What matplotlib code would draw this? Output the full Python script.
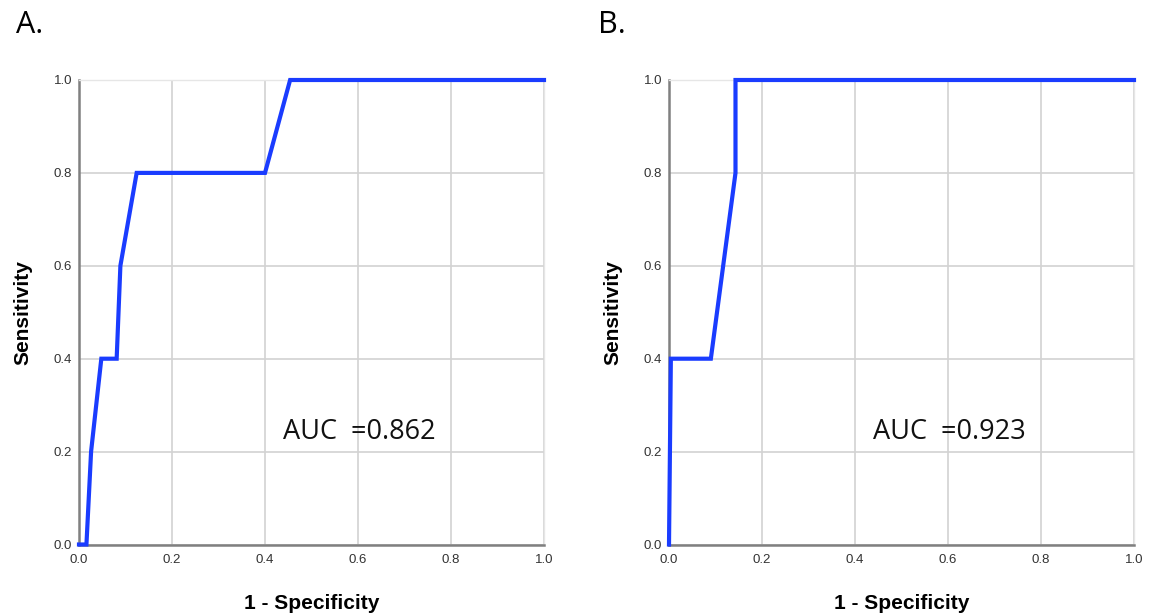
import matplotlib
matplotlib.use("Agg")
import matplotlib.pyplot as plt

# ROC curve A
fpr_a = [0.0, 0.016, 0.026, 0.048, 0.081, 0.089, 0.124, 0.400, 0.454, 1.0]
tpr_a = [0.0, 0.0, 0.2, 0.4, 0.4, 0.6, 0.8, 0.8, 1.0, 1.0]
auc_a = "AUC  =0.862"

# ROC curve B
fpr_b = [0.0, 0.004, 0.090, 0.143, 0.143, 1.0]
tpr_b = [0.0, 0.4, 0.4, 0.8, 1.0, 1.0]
auc_b = "AUC  =0.923"

ticks = [0.0, 0.2, 0.4, 0.6, 0.8, 1.0]
tick_labels = ["0.0", "0.2", "0.4", "0.6", "0.8", "1.0"]

W, H = 1158, 614
fig = plt.figure(figsize=(W / 100, H / 100), dpi=100)


def draw_panel(left_px, fpr, tpr, auc_text, letter, letter_x):
    ax = fig.add_axes([left_px / W, (H - 544.5) / H, 465 / W, 464.5 / H])
    ax.set_xlim(0, 1)
    ax.set_ylim(0, 1)
    ax.set_xticks(ticks)
    ax.set_yticks(ticks)
    ax.set_xticklabels(tick_labels, family="Liberation Sans", fontsize=9.5, color="#333333")
    ax.set_yticklabels(tick_labels, family="Liberation Sans", fontsize=9.5, color="#333333")
    ax.tick_params(axis="x", length=0, pad=7)
    ax.tick_params(axis="y", length=0, pad=5)
    ax.grid(True, color="#d2d2d2", linewidth=1.2)
    ax.set_axisbelow(True)
    for side in ["top", "right"]:
        ax.spines[side].set_color("#e6e6e6")
        ax.spines[side].set_linewidth(1.0)
    for side in ["left", "bottom"]:
        ax.spines[side].set_color("#808080")
        ax.spines[side].set_linewidth(1.8)
    ax.plot(fpr, tpr, color="#1a3cff", linewidth=3.0, solid_joinstyle="miter", clip_on=False, zorder=3)
    ax.text(0.439, 0.242, auc_text, family="Open Sans", fontsize=19.5, color="#111111",
            ha="left", va="center")
    ax.set_xlabel("1 - Specificity", family="Liberation Sans", fontsize=15, fontweight="bold",
                  labelpad=20)
    ax.set_ylabel("Sensitivity", family="Liberation Sans", fontsize=15, fontweight="bold",
                  labelpad=15)
    fig.text(letter_x / W, 1 - 33 / H, letter, family="Open Sans", fontsize=22,
             ha="left", va="baseline")
    return ax


draw_panel(79, fpr_a, tpr_a, auc_a, "A.", 16)
draw_panel(669, fpr_b, tpr_b, auc_b, "B.", 598)

fig.savefig("out.png", dpi=100)
